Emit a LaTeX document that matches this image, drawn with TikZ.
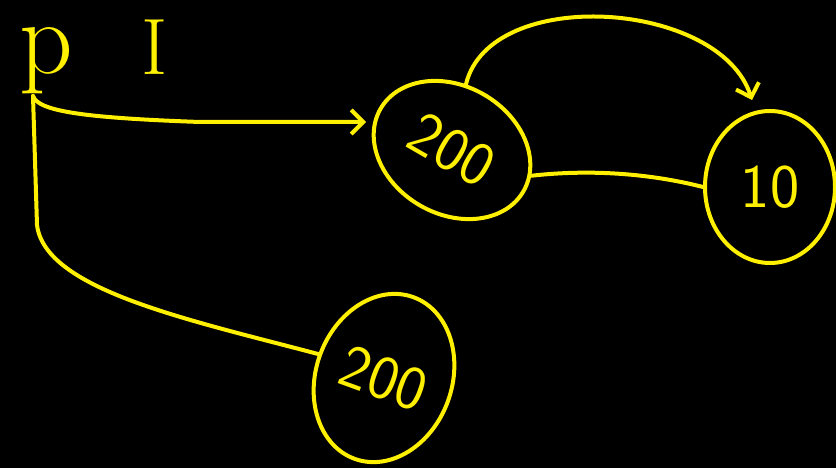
\documentclass[tikz,border=0pt]{standalone}
\usepackage{fontspec}
\usetikzlibrary{arrows.meta,positioning,shapes.geometric}

\definecolor{chalk}{RGB}{255,240,0}

\tikzset{
    ink/.style={draw=chalk, line width=4pt, line cap=round, line join=round},
    arrowink/.style={ink, -{Straight Barb[length=12pt,width=24pt]}},
    bubble/.style={ink, ellipse, inner sep=0pt, text=chalk,
        font=\sffamily\fontsize{62}{62}\selectfont},
    scrawl/.style={text=chalk, inner sep=0pt}
}

\begin{document}
\begin{tikzpicture}[x=1pt, y=-1pt]
    \fill[black] (0,0) rectangle (836,468);
    \useasboundingbox (0,0) rectangle (836,468);

    % labels top left
    \node[scrawl, anchor=base, font=\fontsize{105}{105}\selectfont] (p) at (46,74) {p};
    \node[scrawl, font=\fontsize{80}{80}\selectfont] (I) at (155,47) {I};

    % the three values
    \node[bubble, minimum width=165pt, minimum height=128pt, rotate=-30] (top) at (452,150) {200};
    \node[bubble, minimum width=130pt, minimum height=152pt] (ten) at (770,187) {10};
    \node[bubble, minimum width=136pt, minimum height=172pt, rotate=-20] (low) at (384,378) {200};

    \coordinate (pfoot) at (33,96);

    % links
    \draw[arrowink] (pfoot) .. controls (38,112) and (90,118) .. (200,122) -- (366,122);
    \draw[arrowink] (top.108) .. controls (490,-15) and (720,0) .. (752,100);
    \draw[ink] (top.12) .. controls (600,168) and (660,176) .. (ten.west);
    \draw[ink] (pfoot) -- (37,225) .. controls (45,290) and (190,320) .. (low.west);
\end{tikzpicture}
\end{document}
